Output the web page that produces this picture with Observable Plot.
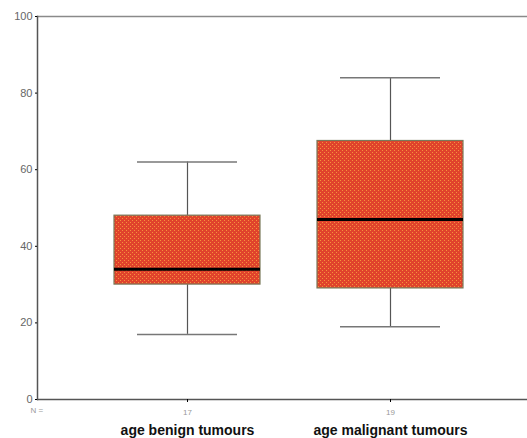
<!DOCTYPE html>
<html>
<head>
<meta charset="utf-8">
<script src="https://cdn.jsdelivr.net/npm/d3@7"></script>
<script src="https://cdn.jsdelivr.net/npm/@observablehq/plot@0.6"></script>
<style>
  html, body { margin: 0; padding: 0; background: #fff; }
  svg { display: block; }
</style>
</head>
<body>
<div id="chart"></div>
<script>
const groups = ["age benign tumours", "age malignant tumours"];
const counts = [17, 19];
const whiskerLow = [17, 19];
const q1 = [30, 29];
const medians = [34, 47];
const q3 = [48, 67.5];
const whiskerHigh = [62, 84];
const yTicks = [0, 20, 40, 60, 80, 100];

const stats = groups.map((g, i) => ({
  group: g, n: counts[i], lo: whiskerLow[i], q1: q1[i], med: medians[i], q3: q3[i], hi: whiskerHigh[i]
}));

const defs = () => {
  const d = d3.create("svg:defs");
  const p = d.append("pattern").attr("id", "dots").attr("patternUnits", "userSpaceOnUse")
    .attr("width", 4).attr("height", 4);
  p.append("rect").attr("width", 4).attr("height", 4).attr("fill", "#e0432c").attr("shape-rendering", "crispEdges");
  p.append("rect").attr("x", 0).attr("y", 0).attr("width", 1).attr("height", 1).attr("fill", "#f5923c").attr("shape-rendering", "crispEdges");
  p.append("rect").attr("x", 2).attr("y", 2).attr("width", 1).attr("height", 1).attr("fill", "#f5923c").attr("shape-rendering", "crispEdges");
  return d.node();
};

const chart = Plot.plot({
  width: 527,
  height: 438,
  marginLeft: 37,
  marginRight: 0,
  marginTop: 16,
  marginBottom: 39,
  style: { fontFamily: "Liberation Sans, Arial, sans-serif", background: "#fff" },
  x: { domain: groups, paddingInner: 0.28, paddingOuter: 0.341, align: 0.55, axis: null },
  y: { domain: [0, 100], axis: null },
  marks: [
    defs,
    Plot.ruleY([100], { stroke: "#8a8a8a", strokeWidth: 1.5 }),
    Plot.ruleY([0], { stroke: "#555", strokeWidth: 1.5 }),
    Plot.frame({ anchor: "left", stroke: "#555", strokeWidth: 1.5 }),
    Plot.axisY({ ticks: yTicks, tickSize: 2, tickPadding: 3, fontSize: 11, fill: "#666", stroke: "#000", label: null }),
    Plot.axisX({ tickSize: 3, tickPadding: 7, fontSize: 8, fill: "#999", stroke: "#000", label: null, tickFormat: (d) => String(counts[groups.indexOf(d)]) }),
    Plot.text(["N ="], { frameAnchor: "bottom-left", textAnchor: "start", dx: -7, dy: 13, fontSize: 8, fill: "#999" }),
    Plot.text(stats, { x: "group", text: "group", frameAnchor: "bottom", dy: 31, fontSize: 14, fontWeight: "bold", fill: "#111", lineAnchor: "middle" }),
    Plot.ruleX(stats, { x: "group", y1: "lo", y2: "q1", stroke: "#555", strokeWidth: 1.2 }),
    Plot.ruleX(stats, { x: "group", y1: "q3", y2: "hi", stroke: "#555", strokeWidth: 1.2 }),
    Plot.tickY(stats, { x: "group", y: "lo", inset: 23, stroke: "#777", strokeWidth: 1.5 }),
    Plot.tickY(stats, { x: "group", y: "hi", inset: 23, stroke: "#777", strokeWidth: 1.5 }),
    Plot.barY(stats, { x: "group", y1: "q1", y2: "q3", fill: "url(#dots)", stroke: "#7a7a5a", strokeWidth: 1.2 }),
    Plot.tickY(stats, { x: "group", y: "med", stroke: "#000", strokeWidth: 3 })
  ]
});
document.getElementById("chart").appendChild(chart);
</script>
</body>
</html>
